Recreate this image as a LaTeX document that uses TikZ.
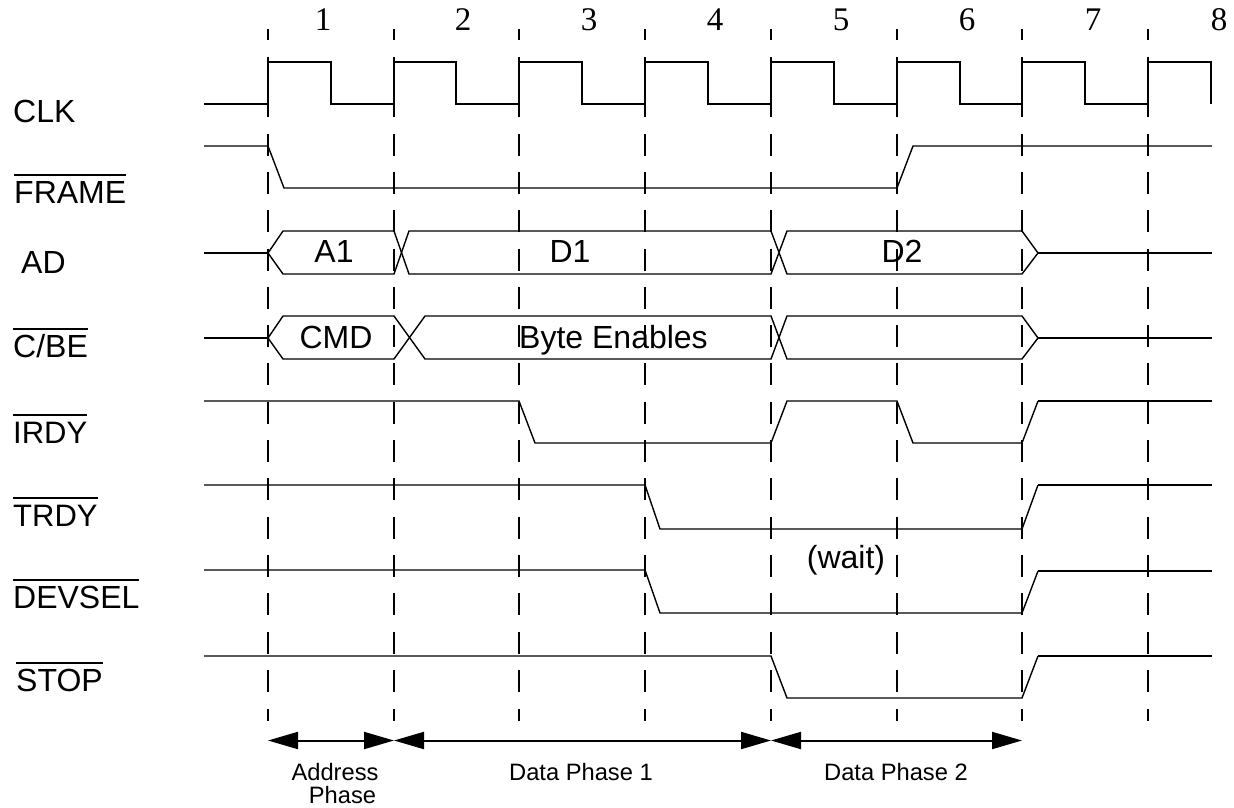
\documentclass[tikz,border=0pt]{standalone}
\usepackage{fontspec}
\setmainfont{Liberation Sans}
\newfontfamily\numfont{Liberation Serif}
\usetikzlibrary{arrows.meta}
\newcommand\barred[1]{\leavevmode\setbox0\hbox{#1}\rlap{\raisebox{27pt}{\rule{\wd0}{2pt}}}\box0}
\tikzset{
  gridline/.style={line width=2pt},
  griddash/.style={line width=2pt,dash pattern=on 22pt off 16.3pt},
  clockwave/.style={line width=2pt,line join=miter},
  wave/.style={line width=1.4pt,line join=miter},
  span/.style={line width=2pt,{Triangle[length=30pt,width=17pt]}-{Triangle[length=30pt,width=17pt]},shorten <=0pt,shorten >=0pt},
  siglabel/.style={anchor=base west,inner sep=0pt,font=\fontsize{32}{32}\selectfont},
  narrowlabel/.style={siglabel,font=\fontsize{31}{31}\selectfont},
  inlabel/.style={anchor=base,inner sep=0pt,font=\fontsize{32}{32}\selectfont},
  phaselabel/.style={anchor=base,inner sep=0pt,font=\fontsize{23.7}{24}\selectfont},
  numlabel/.style={anchor=base,inner sep=0pt,font=\numfont\fontsize{33}{33}\selectfont}
}
\begin{document}
\begin{tikzpicture}[x=1pt,y=-1pt]
\useasboundingbox (0,0) rectangle (1234,807);
% grid
\foreach \x in {268,394,519,645,771,897,1022,1148}{
  \draw[gridline] (\x,29) -- (\x,40);
  \draw[griddash] (\x,57) -- (\x,694);
  \draw[gridline] (\x,709) -- (\x,721);
}
% clock
\draw[clockwave] (204,104) -- (268,104) |- (331,62) |- (394,104) |- (456,62) |- (519,104) |- (582,62) |- (645,104) |- (708,62) |- (771,104) |- (834,62) |- (897,104) |- (960,62) |- (1022,104) |- (1085,62) |- (1148,104) |- (1211,62) -- (1211,104);
% frame
\draw[wave] (204,146) -- (268,146) -- (284,188) -- (897,188) -- (913,146) -- (1212,146);
% AD
\draw[clockwave] (204,253) -- (268,253);
\draw[clockwave] (1038,253) -- (1212,253);
\draw[wave] (268,253) -- (283,231) -- (394,231) -- (409,274) -- (771,274) -- (787,231) -- (1022,231) -- (1038,253);
\draw[wave] (268,253) -- (283,274) -- (394,274) -- (409,231) -- (771,231) -- (787,274) -- (1022,274) -- (1038,253);
% C/BE
\draw[clockwave] (204,338) -- (268,338);
\draw[clockwave] (1038,338) -- (1212,338);
\draw[wave] (268,338) -- (283,316) -- (394,316) -- (425,359) -- (771,359) -- (787,316) -- (1022,316) -- (1038,338);
\draw[wave] (268,338) -- (283,359) -- (394,359) -- (425,316) -- (771,316) -- (787,359) -- (1022,359) -- (1038,338);
% IRDY
\draw[wave] (204,401) -- (519,401) -- (535,443) -- (771,443) -- (787,401) -- (897,401) -- (913,443) -- (1022,443) -- (1038,401);
\draw[clockwave] (1038,401) -- (1212,401);
% TRDY
\draw[wave] (204,485) -- (645,485) -- (660,529) -- (1022,529) -- (1038,485);
\draw[clockwave] (1038,485) -- (1212,485);
% DEVSEL
\draw[wave] (204,570) -- (645,570) -- (660,613) -- (1022,613) -- (1038,571);
\draw[clockwave] (1038,571) -- (1212,571);
% STOP
\draw[wave] (204,656) -- (771,656) -- (787,698) -- (1022,698) -- (1038,656);
\draw[clockwave] (1038,656) -- (1212,656);
% phases
\coordinate (p1) at (268,740.5);
\coordinate (p2) at (394,740.5);
\coordinate (p3) at (771,740.5);
\coordinate (p4) at (1022,740.5);
\draw[span] (p1) -- (p2);
\draw[span] (p2) -- (p3);
\draw[span] (p3) -- (p4);
% numbers
\node[numlabel] (n1) at (323,30.5) {1};
\node[numlabel] (n2) at (463,30.5) {2};
\node[numlabel] (n3) at (589,30.5) {3};
\node[numlabel] (n4) at (715,30.5) {4};
\node[numlabel] (n5) at (841,30.5) {5};
\node[numlabel] (n6) at (967,30.5) {6};
\node[numlabel] (n7) at (1093,30.5) {7};
\node[numlabel] (n8) at (1219,30.5) {8};
% signal labels
\node[siglabel] (clk) at (13,122) {CLK};
\node[siglabel] (frame) at (14,203) {\barred{FRAME}};
\node[siglabel] (ad) at (21,273) {AD};
\node[siglabel] (cbe) at (13,357) {\barred{C/BE}};
\node[narrowlabel] (irdy) at (13,443) {\barred{IRDY}};
\node[narrowlabel] (trdy) at (13,526) {\barred{TRDY}};
\node[siglabel] (devsel) at (13,608) {\barred{DEVSEL}};
\node[siglabel] (stop) at (16,691) {\barred{STOP}};
% inner labels
\node[inlabel] (a1) at (334,262) {A1};
\node[inlabel] (d1) at (570,262) {D1};
\node[inlabel] (d2) at (902,262) {D2};
\node[inlabel] (cmd) at (336,348) {CMD};
\node[inlabel] (be) at (613.5,348) {Byte Enables};
\node[inlabel] (wait) at (846,568) {(wait)};
% phase labels
\node[phaselabel] (addr) at (335,780) {Address};
\node[phaselabel] (phase) at (342.5,803) {Phase};
\node[phaselabel] (dp1) at (581,780) {Data Phase 1};
\node[phaselabel] (dp2) at (896,780) {Data Phase 2};
\end{tikzpicture}
\end{document}
